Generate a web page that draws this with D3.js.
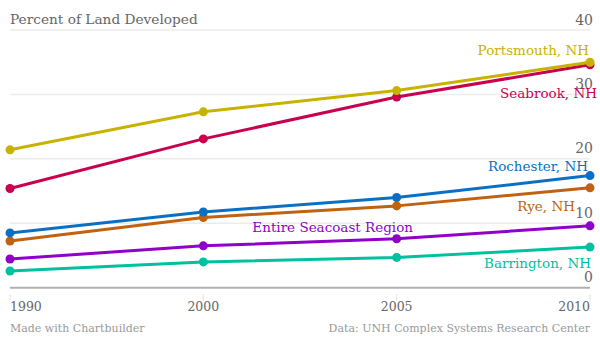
<!DOCTYPE html>
<html><head><meta charset="utf-8">
<script src="https://cdn.jsdelivr.net/npm/d3@7"></script>
<style>
html,body{margin:0;padding:0;background:#fff;}
svg{display:block;}
text{font-family:"DejaVu Serif",serif;}
</style></head>
<body>
<svg id="c" width="600" height="338"></svg>
<script>
const years = ["1990","2000","2005","2010"];
const yTicks = [0,10,20,30,40];
const seriesNames = ["Portsmouth, NH","Seabrook, NH","Rochester, NH","Rye, NH","Entire Seacoast Region","Barrington, NH"];
const portsmouth = [21.4, 27.3, 30.6, 35.0];
const seabrook   = [15.4, 23.1, 29.6, 34.6];
const rochester  = [8.5, 11.75, 14.0, 17.4];
const rye        = [7.25, 10.9, 12.7, 15.5];
const seacoast   = [4.45, 6.5, 7.6, 9.6];
const barrington = [2.6, 4.0, 4.7, 6.3];
const colors = ["#c8b200","#c8004e","#0b6fc4","#c0620f","#9000c8","#00c0a0"];
const title = "Percent of Land Developed";
const credit = "Made with Chartbuilder";
const source = "Data: UNH Complex Systems Research Center";

const allValues = [portsmouth, seabrook, rochester, rye, seacoast, barrington];
const labelPos = [
  {x:589, dy:-7},
  {x:597, dy:33},
  {x:588, dy:-5},
  {x:575, dy:23},
  {x:413, dy:null},
  {x:591, dy:21}
];

const svg = d3.select("#c");
const x = d3.scalePoint().domain(years).range([10,590]);
const y = d3.scaleLinear().domain([0,40]).range([287.7,30]);

svg.append("g").selectAll("line").data(yTicks.filter(d=>d>0)).join("line")
  .attr("x1",10).attr("x2",590)
  .attr("y1",d=>y(d)).attr("y2",d=>y(d))
  .attr("stroke","#ececec").attr("stroke-width",1.5);

svg.append("g").selectAll("text").data(yTicks).join("text")
  .attr("x",593).attr("y",d=>y(d)-5.5)
  .attr("text-anchor","end")
  .attr("font-size",14).attr("fill","#666")
  .text(d=>d);

svg.append("line").attr("x1",10).attr("x2",590)
  .attr("y1",y(0)).attr("y2",y(0))
  .attr("stroke","#b0b0b0").attr("stroke-width",2);

svg.append("g").selectAll("line").data(years).join("line")
  .attr("x1",d=>x(d)).attr("x2",d=>x(d))
  .attr("y1",294).attr("y2",301)
  .attr("stroke","#e2e2e2").attr("stroke-width",1);

svg.append("g").selectAll("text").data(years).join("text")
  .attr("x",d=>x(d)).attr("y",311)
  .attr("text-anchor",(d,i)=> i===0?"start":(i===years.length-1?"end":"middle"))
  .attr("font-size",12.5).attr("fill","#666")
  .text(d=>d);

svg.append("text").attr("x",10).attr("y",24)
  .attr("font-size",13.7).attr("fill","#666").text(title);

svg.append("text").attr("x",10).attr("y",332)
  .attr("font-size",11).attr("fill","#999").text(credit);
svg.append("text").attr("x",590).attr("y",332).attr("text-anchor","end")
  .attr("font-size",11).attr("fill","#999").text(source);

const line = d3.line().x((d,i)=>x(years[i])).y(d=>y(d));
const order = [5,4,3,2,1,0];
order.forEach(k=>{
  const g = svg.append("g");
  g.append("path").datum(allValues[k]).attr("d",line)
    .attr("fill","none").attr("stroke",colors[k]).attr("stroke-width",3)
    .attr("stroke-linejoin","round");
  g.selectAll("circle").data(allValues[k]).join("circle")
    .attr("cx",(d,i)=>x(years[i])).attr("cy",d=>y(d)).attr("r",4.5)
    .attr("fill",colors[k]);
});

seriesNames.forEach((n,k)=>{
  const last = allValues[k][allValues[k].length-1];
  const lp = labelPos[k];
  const yy = lp.dy===null ? 232 : y(last)+lp.dy;
  svg.append("text").attr("x",lp.x).attr("y",yy)
    .attr("text-anchor","end").attr("font-size",13.5)
    .attr("fill",colors[k]).text(n);
});
</script>
</body></html>
